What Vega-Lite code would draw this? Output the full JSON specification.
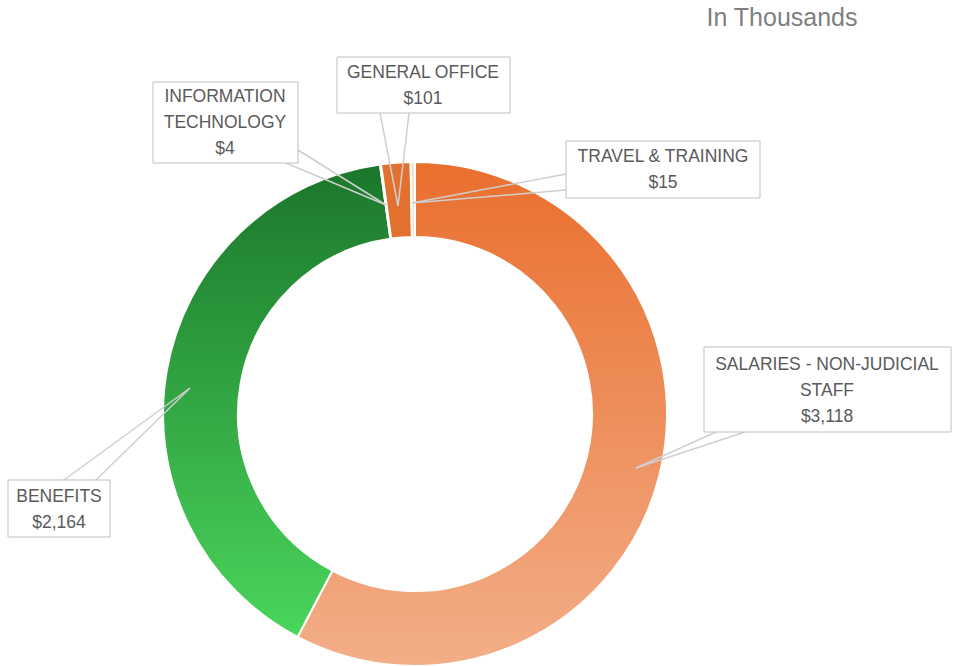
{
  "$schema": "https://vega.github.io/schema/vega-lite/v6.json",
  "width": 830,
  "height": 500,
  "padding": {"left": 0, "top": 164, "right": 123, "bottom": 3},
  "autosize": {"type": "none"},
  "background": "white",
  "config": {"view": {"stroke": null}},
  "datasets": {
    "slices": [
      {"category": "SALARIES - NON-JUDICIAL STAFF", "value": 3118, "ord": 1},
      {"category": "BENEFITS", "value": 2164, "ord": 2},
      {"category": "INFORMATION TECHNOLOGY", "value": 4, "ord": 3},
      {"category": "GENERAL OFFICE", "value": 101, "ord": 4},
      {"category": "TRAVEL & TRAINING", "value": 15, "ord": 5}
    ],
    "leaders": [
      {"category": "INFORMATION TECHNOLOGY", "x": 286, "y": 163, "x2": 386, "y2": 205},
      {"category": "INFORMATION TECHNOLOGY", "x": 298, "y": 150, "x2": 386, "y2": 205},
      {"category": "GENERAL OFFICE", "x": 380, "y": 113, "x2": 398, "y2": 206},
      {"category": "GENERAL OFFICE", "x": 409, "y": 113, "x2": 398, "y2": 206},
      {"category": "TRAVEL & TRAINING", "x": 566, "y": 174, "x2": 412, "y2": 203},
      {"category": "TRAVEL & TRAINING", "x": 566, "y": 190, "x2": 412, "y2": 203},
      {"category": "SALARIES - NON-JUDICIAL STAFF", "x": 716, "y": 432, "x2": 636, "y2": 468},
      {"category": "SALARIES - NON-JUDICIAL STAFF", "x": 745, "y": 432, "x2": 636, "y2": 468},
      {"category": "BENEFITS", "x": 64, "y": 480, "x2": 190, "y2": 388},
      {"category": "BENEFITS", "x": 96, "y": 480, "x2": 190, "y2": 388}
    ],
    "boxes": [
      {"category": "GENERAL OFFICE", "label": "GENERAL OFFICE\n$101", "x": 337, "x2": 510, "y": 57, "y2": 113, "tx": 423, "ty": 73},
      {"category": "INFORMATION TECHNOLOGY", "label": "INFORMATION\nTECHNOLOGY\n$4", "x": 153, "x2": 298, "y": 82, "y2": 163, "tx": 225, "ty": 97},
      {"category": "TRAVEL & TRAINING", "label": "TRAVEL & TRAINING\n$15", "x": 566, "x2": 760, "y": 141, "y2": 198, "tx": 663, "ty": 157},
      {"category": "SALARIES - NON-JUDICIAL STAFF", "label": "SALARIES - NON-JUDICIAL\nSTAFF\n$3,118", "x": 704, "x2": 951, "y": 347, "y2": 432, "tx": 827, "ty": 365},
      {"category": "BENEFITS", "label": "BENEFITS\n$2,164", "x": 8, "x2": 110, "y": 480, "y2": 537, "tx": 59, "ty": 497}
    ],
    "note": [
      {"text": "In Thousands", "x": 782, "y": 18}
    ]
  },
  "layer": [
    {
      "data": {"name": "slices"},
      "mark": {"type": "arc", "outerRadius": 252, "innerRadius": 177, "stroke": "white", "strokeWidth": 2},
      "encoding": {
        "theta": {"field": "value", "type": "quantitative", "stack": true},
        "order": {"field": "ord", "type": "quantitative"},
        "fill": {
          "condition": [
            {"test": "datum.category === 'SALARIES - NON-JUDICIAL STAFF'", "value": {"gradient": "linear", "x1": 0, "y1": 0, "x2": 0, "y2": 1, "stops": [{"offset": 0, "color": "#E96F2E"}, {"offset": 1, "color": "#F3AE88"}]}},
            {"test": "datum.category === 'BENEFITS'", "value": {"gradient": "linear", "x1": 0, "y1": 0, "x2": 0, "y2": 1, "stops": [{"offset": 0, "color": "#1B762B"}, {"offset": 1, "color": "#4AD65C"}]}},
            {"test": "datum.category === 'GENERAL OFFICE'", "value": "#E2702F"},
            {"test": "datum.category === 'TRAVEL & TRAINING'", "value": "#F4E1CC"}
          ],
          "value": "#E3DED6"
        },
        "tooltip": [{"field": "category", "type": "nominal"}, {"field": "value", "type": "quantitative"}]
      }
    },
    {
      "data": {"name": "leaders"},
      "mark": {"type": "rule", "color": "#CFCFCF", "strokeWidth": 1.5},
      "encoding": {
        "x": {"field": "x", "type": "quantitative", "scale": {"domain": [0, 830], "nice": false, "zero": false}, "axis": null},
        "y": {"field": "y", "type": "quantitative", "scale": {"domain": [164, 664], "nice": false, "zero": false, "reverse": true}, "axis": null},
        "x2": {"field": "x2"},
        "y2": {"field": "y2"}
      }
    },
    {
      "data": {"name": "boxes"},
      "mark": {"type": "rect", "fill": "white", "stroke": "#BFBFBF", "strokeWidth": 1},
      "encoding": {
        "x": {"field": "x", "type": "quantitative", "scale": {"domain": [0, 830], "nice": false, "zero": false}, "axis": null},
        "y": {"field": "y", "type": "quantitative", "scale": {"domain": [164, 664], "nice": false, "zero": false, "reverse": true}, "axis": null},
        "x2": {"field": "x2"},
        "y2": {"field": "y2"}
      }
    },
    {
      "data": {"name": "boxes"},
      "mark": {"type": "text", "font": "Liberation Sans", "fontSize": 17.5, "color": "#5A5A5A", "align": "center", "baseline": "middle", "lineBreak": "\n", "lineHeight": 26},
      "encoding": {
        "x": {"field": "tx", "type": "quantitative", "scale": {"domain": [0, 830], "nice": false, "zero": false}, "axis": null},
        "y": {"field": "ty", "type": "quantitative", "scale": {"domain": [164, 664], "nice": false, "zero": false, "reverse": true}, "axis": null},
        "text": {"field": "label", "type": "nominal"}
      }
    },
    {
      "data": {"name": "note"},
      "mark": {"type": "text", "font": "Liberation Sans", "fontSize": 25, "color": "#7F7F7F", "align": "center", "baseline": "middle"},
      "encoding": {
        "x": {"field": "x", "type": "quantitative", "scale": {"domain": [0, 830], "nice": false, "zero": false}, "axis": null},
        "y": {"field": "y", "type": "quantitative", "scale": {"domain": [164, 664], "nice": false, "zero": false, "reverse": true}, "axis": null},
        "text": {"field": "text", "type": "nominal"}
      }
    }
  ]
}
